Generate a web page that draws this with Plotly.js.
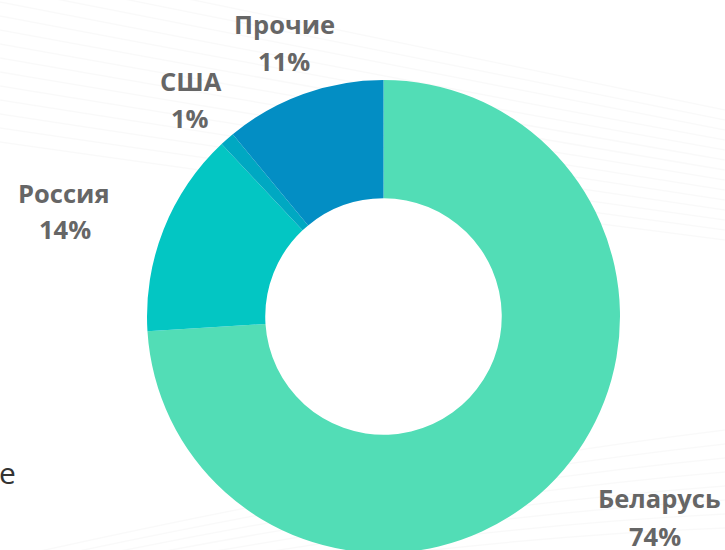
<!DOCTYPE html>
<html>
<head>
<meta charset="utf-8">
<script src="https://cdn.plot.ly/plotly-3.0.1.min.js"></script>
<style>
html,body{margin:0;padding:0;background:#ffffff;overflow:hidden;width:725px;height:550px;}
#chart{width:725px;height:600px;}
</style>
</head>
<body>
<div id="chart"></div>
<script>
// Data
const labels = ["Беларусь", "Россия", "США", "Прочие"];
const values = [74, 14, 1, 11];
const colors = ["#52ddb6", "#03c6c3", "#00a8c2", "#038ec4"];

const W = 725, H = 600;
const px = x => x / W;
const py = y => 1 - y / H;

// label placement (pixels, centre of each text line)
const labelPos = [
  {x: 659, y1: 498, x2: 655, y2: 536},
  {x: 64,  y1: 193, x2: 65,  y2: 229},
  {x: 191, y1: 81,  x2: 190, y2: 118},
  {x: 284, y1: 24,  x2: 284, y2: 61}
];

const labelFont = {family: "Open Sans, Noto Sans, sans-serif", size: 25.5, color: "#666666", weight: 700};
const annotations = [];
labels.forEach((lab, i) => {
  const p = labelPos[i];
  annotations.push({xref: "paper", yref: "paper", x: px(p.x), y: py(p.y1), text: "<b>" + lab + "</b>",
    showarrow: false, xanchor: "center", yanchor: "middle", font: labelFont});
  annotations.push({xref: "paper", yref: "paper", x: px(p.x2), y: py(p.y2), text: "<b>" + values[i] + "%</b>",
    showarrow: false, xanchor: "center", yanchor: "middle", font: labelFont});
});
// clipped stray text at left edge
annotations.push({xref: "paper", yref: "paper", x: px(18), y: py(472), text: "ие",
  showarrow: false, xanchor: "right", yanchor: "middle",
  font: {family: "Open Sans, sans-serif", size: 30, color: "#333333"}});

// faint decorative background curves
const shapes = [];
for (let k = 0; k < 14; k++) {
  const a = -40 + k * 14, b = 40 + k * 12, c = 110 + k * 10;
  const d = `M ${px(0)},${py(a)} Q ${px(380)},${py(b)} ${px(725)},${py(c)}`;
  shapes.push({type: "path", xref: "paper", yref: "paper", path: d, layer: "below",
    line: {color: "rgba(0,0,0,0.025)", width: 1.5}});
}
for (let k = 0; k < 8; k++) {
  const a = 560 + k * 8, b = 470 + k * 10, c = 430 + k * 14;
  const d = `M ${px(0)},${py(a)} Q ${px(400)},${py(b)} ${px(725)},${py(c)}`;
  shapes.push({type: "path", xref: "paper", yref: "paper", path: d, layer: "below",
    line: {color: "rgba(0,0,0,0.025)", width: 1.5}});
}

const trace = {
  type: "pie",
  labels: labels,
  values: values,
  hole: 0.5,
  sort: false,
  direction: "clockwise",
  rotation: 0,
  marker: {colors: colors, line: {width: 0}},
  textinfo: "none",
  hoverinfo: "skip",
  domain: {x: [147 / W, 620 / W], y: [1 - 553 / H, 1 - 80 / H]}
};

Plotly.newPlot("chart", [trace], {
  width: W, height: H,
  margin: {l: 0, r: 0, t: 0, b: 0},
  paper_bgcolor: "#ffffff",
  plot_bgcolor: "#ffffff",
  showlegend: false,
  annotations: annotations,
  shapes: shapes
}, {staticPlot: true});
</script>
</body>
</html>
